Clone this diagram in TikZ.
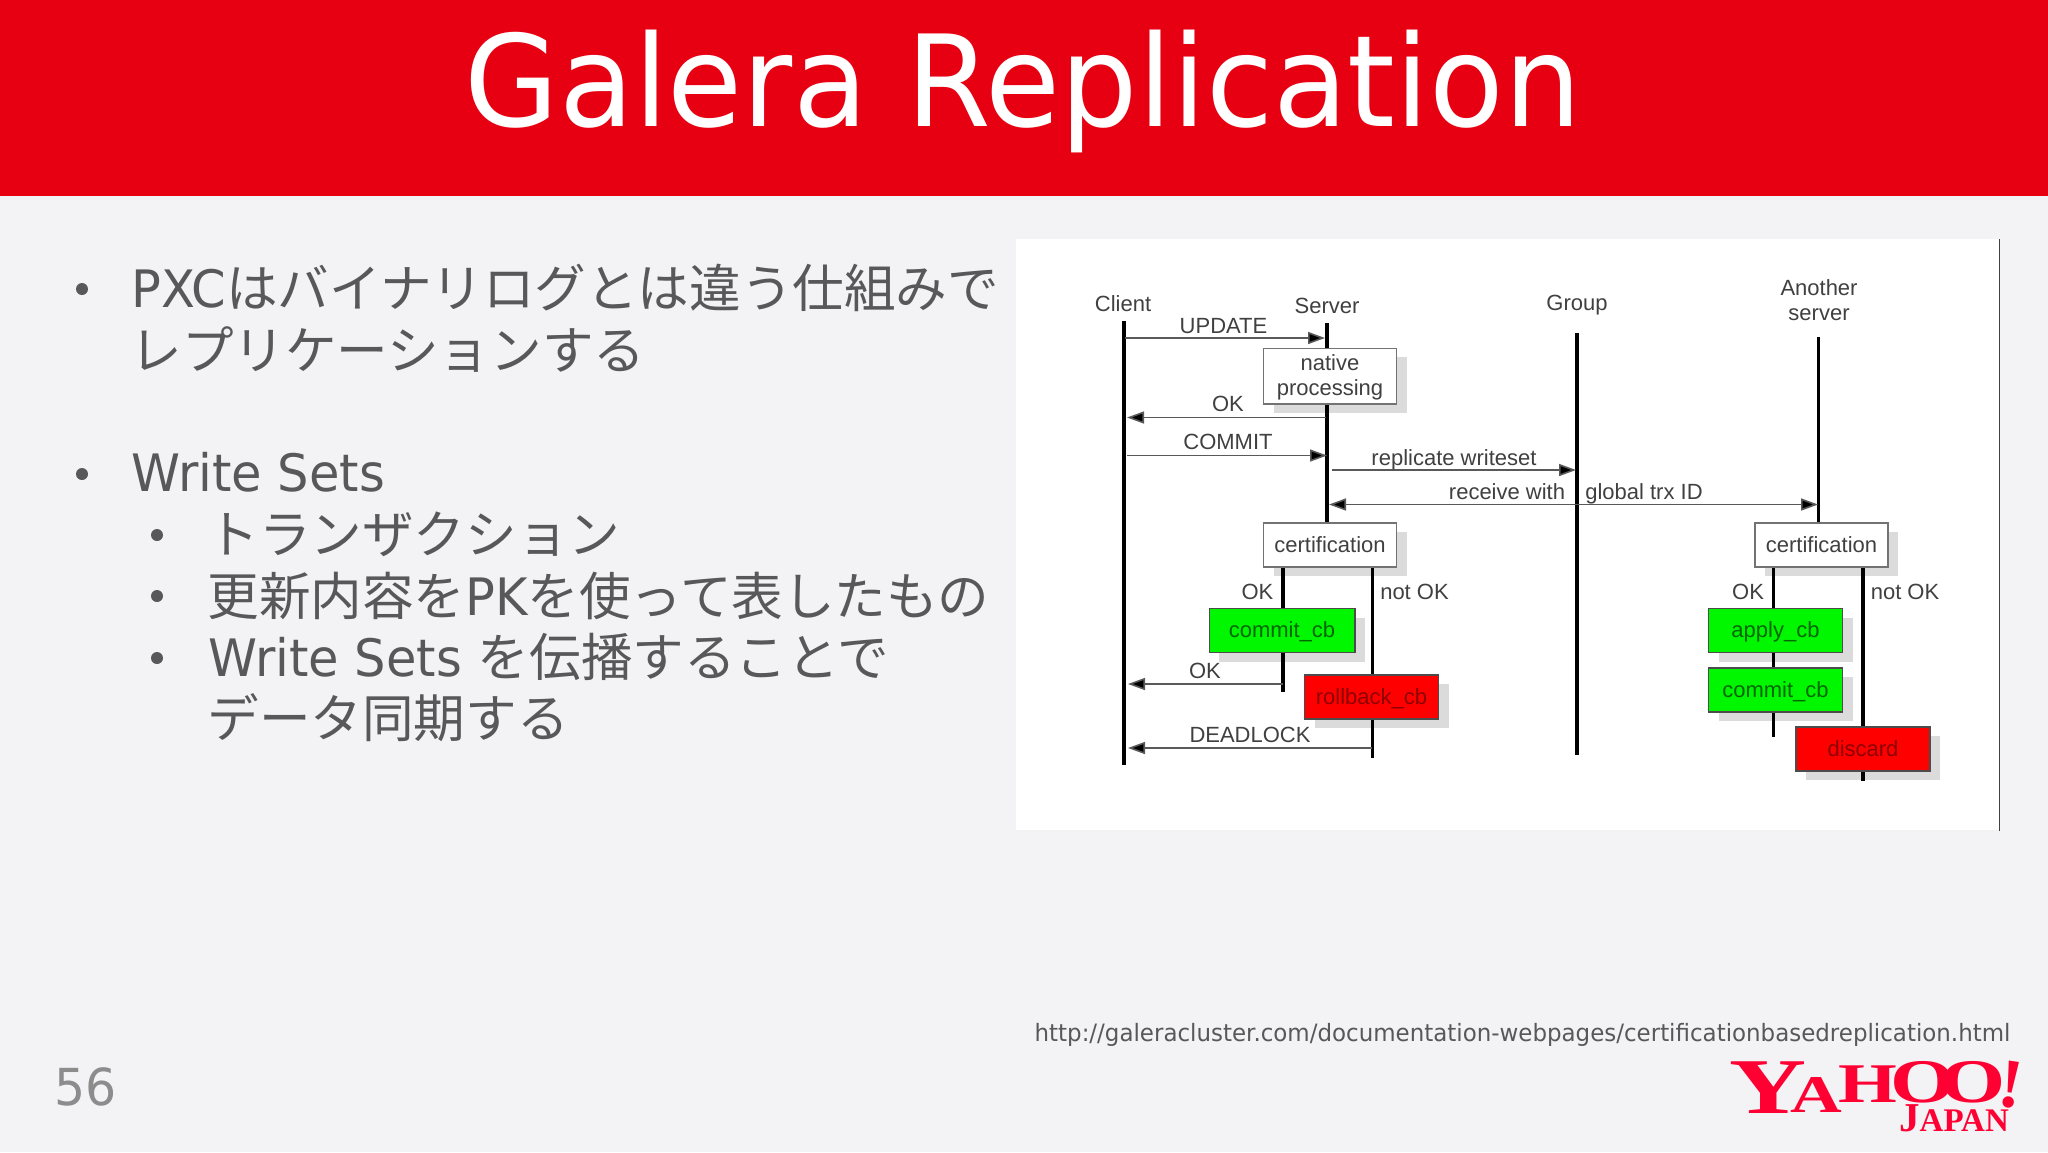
\documentclass[tikz,border=0pt]{standalone}
\usepackage{fontspec}
\usetikzlibrary{arrows.meta,shadows}
\newfontfamily\latinfont[FakeStretch=.96]{DejaVu Sans}
\newfontfamily\jpfont{Noto Sans CJK JP}
\newfontfamily\figfont{Liberation Sans}
\newfontfamily\logofont[FakeStretch=1.35]{Liberation Serif}
\newfontfamily\japanfont{Liberation Serif}
\definecolor{slidebg}{HTML}{F3F2F5}
\definecolor{headred}{HTML}{E60012}
\definecolor{bodygray}{HTML}{58585A}
\definecolor{figgray}{HTML}{404040}
\definecolor{yahoored}{HTML}{FF0033}
\tikzset{
  lbl/.style={font=\figfont\fontsize{11}{12.5}\selectfont, text=figgray, inner sep=0pt, align=center},
  bodyline/.style={font=\jpfont\fontsize{25.8}{30}\selectfont, text=bodygray, anchor=base west, inner sep=0pt},
  dotmark/.style={circle, fill=bodygray, minimum size=6pt, inner sep=0pt},
  procbox/.style={lbl, draw=black!55, line width=.7pt, fill=white, minimum width=66.5pt, minimum height=22pt,
    text height=7pt, text depth=0pt,
    drop shadow={shadow xshift=5pt, shadow yshift=-4.5pt, fill=black, opacity=.14}},
  okbox/.style={procbox, draw=black!70, fill=green!97!black, text=green!40!black, minimum width=67pt},
  badbox/.style={procbox, draw=black!70, fill=red, text=red!55!black, minimum width=67pt},
  life/.style={line width=1.8pt, black},
  msg/.style={line width=.8pt, black!65, >={Triangle[length=8.5pt,width=6pt,fill=black]}},
  logotext/.style={text=yahoored, inner sep=0pt, anchor=base}
}
\begin{document}
\begin{tikzpicture}[x=0.5pt, y=-0.5pt]

\path[use as bounding box, fill=slidebg] (0,0) rectangle (2048,1152);
\fill[headred] (0,0) rectangle (2048,196);
\node[anchor=base, inner sep=0pt, text=white, font=\latinfont\fontsize{63.5}{70}\selectfont] (title) at (1023,126) {Galera Replication};

% left column
\node[dotmark] (dot1) at (82,289) {};
\node[bodyline] (line1) at (131,307) {\latinfont PXC\jpfont はバイナリログとは違う仕組みで};
\node[bodyline] (line2) at (130,369) {レプリケーションする};
\node[dotmark] (dot2) at (82,474) {};
\node[bodyline] (line3) at (131,491) {\latinfont Write Sets};
\node[dotmark] (dot3) at (157,535) {};
\node[bodyline] (line4) at (207,553) {トランザクション};
\node[dotmark] (dot4) at (157,596) {};
\node[bodyline] (line5) at (207,615) {更新内容を\latinfont PK\jpfont を使って表したもの};
\node[dotmark] (dot5) at (157,658) {};
\node[bodyline] (line6) at (208,676) {\latinfont Write Sets \jpfont を伝播することで};
\node[bodyline] (line7) at (207,737) {データ同期する};

% figure panel
\fill[white] (1016,239) rectangle (1999,830);
\coordinate (edgetop) at (1999.5,239); \coordinate (edgebot) at (1999.5,831);
\draw[black!75, line width=.7pt] (edgetop) -- (edgebot);

\node[lbl] (client) at (1123,304) {Client};
\node[lbl] (server) at (1327,306) {Server};
\node[lbl] (group) at (1577,305) {Group};
\node[lbl] (another) at (1819,300) {Another\\server};

\coordinate (clienttop) at (1123.5,321); \coordinate (clientbot) at (1123.5,765);
\coordinate (servertop) at (1327,323); \coordinate (serverbot) at (1327,524);
\coordinate (grouptop) at (1577,333); \coordinate (groupbot) at (1577,755);
\coordinate (anothertop) at (1818.5,337); \coordinate (anotherbot) at (1818.5,524);
\coordinate (okstub) at (1283,566); \coordinate (okend) at (1283,692);
\coordinate (badstub) at (1372.5,566); \coordinate (badend) at (1372.5,758);
\coordinate (okstubb) at (1773.5,566); \coordinate (okendb) at (1773.5,737);
\coordinate (badstubb) at (1863,566); \coordinate (badendb) at (1863,781);

\begin{scope}[life]
  \draw[line width=2pt] (clienttop) -- (clientbot);
  \draw (servertop) -- (serverbot); \draw (grouptop) -- (groupbot);
  \draw (anothertop) -- (anotherbot);
  \draw (okstub) -- (okend); \draw (badstub) -- (badend);
  \draw (okstubb) -- (okendb); \draw (badstubb) -- (badendb);
\end{scope}

\coordinate (updatea) at (1125,338); \coordinate (updateb) at (1325,338);
\coordinate (oka) at (1326,417.5); \coordinate (okb) at (1127,417.5);
\coordinate (commitfrom) at (1127,455.5); \coordinate (committo) at (1327,455.5);
\coordinate (repla) at (1332,470); \coordinate (replb) at (1576,470);
\coordinate (recva) at (1329,504.5); \coordinate (recvb) at (1818,504.5);
\coordinate (okca) at (1283,684); \coordinate (okcb) at (1128,684);
\coordinate (locka) at (1372,748); \coordinate (lockb) at (1128,748);

\begin{scope}[msg,->]
  \draw (updatea) -- (updateb); \draw (oka) -- (okb);
  \draw (commitfrom) -- (committo); \draw (repla) -- (replb);
  \draw[<->] (recva) -- (recvb);
  \draw (okca) -- (okcb); \draw (locka) -- (lockb);
\end{scope}

\node[lbl] (updatelbl) at (1223.5,326) {UPDATE};
\node[lbl] (oklbl) at (1228,404) {OK};
\node[lbl] (commitlbl) at (1228,442) {COMMIT};
\node[lbl] (repllbl) at (1454,460) {replicate writeset};
\node[lbl] (recvlbl) at (1507,492) {receive with};
\node[lbl] (trxlbl) at (1644,494) {global trx ID};
\node[lbl] (okclbl) at (1205,671) {OK};
\node[lbl] (locklbl) at (1250,735) {DEADLOCK};
\node[lbl] (oka1) at (1257.5,592) {OK};
\node[lbl] (notok1) at (1414.5,592) {not OK};
\node[lbl] (oka2) at (1748,592) {OK};
\node[lbl] (notok2) at (1905,592) {not OK};

\node[procbox, minimum height=27.8pt, text height=19.5pt] (native) at (1330,376) {native\\processing};
\node[procbox] (certa) at (1330,545) {certification};
\node[okbox, minimum width=72.8pt] (commitcb) at (1282,630.5) {commit\_cb};
\node[badbox] (rollback) at (1371.5,697) {rollback\_cb};
\node[procbox] (certb) at (1821.5,545) {certification};
\node[okbox] (apply) at (1775.5,630.5) {apply\_cb};
\node[okbox] (commitcbb) at (1775.5,690) {commit\_cb};
\node[badbox] (discard) at (1863,749) {discard};

\node[anchor=base, inner sep=0pt, text=bodygray, font=\latinfont\fontsize{11.95}{14}\selectfont] (url) at (1522.5,1041) {http://galeracluster.com/documentation-webpages/certificationbasedreplication.html};
\node[anchor=base west, inner sep=0pt, text=black!45, font=\latinfont\fontsize{25.5}{27}\selectfont] (pagenum) at (54,1105) {56};

% logo
\node[logotext, font=\logofont\bfseries\fontsize{39.5}{40}\selectfont] (logoy) at (1768,1113) {Y};
\node[logotext, font=\logofont\bfseries\fontsize{26.5}{27}\selectfont] (logoa) at (1816,1112) {A};
\node[logotext, font=\logofont\bfseries\fontsize{28}{29}\selectfont] (logoh) at (1868,1102) {H};
\node[logotext, font=\logofont\bfseries\fontsize{31}{32}\selectfont] (logoo) at (1923,1102) {O};
\node[logotext, font=\logofont\bfseries\fontsize{31}{32}\selectfont] (logop) at (1973,1102) {O};
\node[logotext, rotate=-8, font=\japanfont\bfseries\fontsize{35}{36}\selectfont] (logoex) at (2008,1107) {!};
\node[logotext, font=\japanfont\bfseries] (logojp) at (1954,1131) {\fontsize{20.5}{21}\selectfont J\fontsize{16.5}{17}\selectfont APAN};

\end{tikzpicture}
\end{document}
